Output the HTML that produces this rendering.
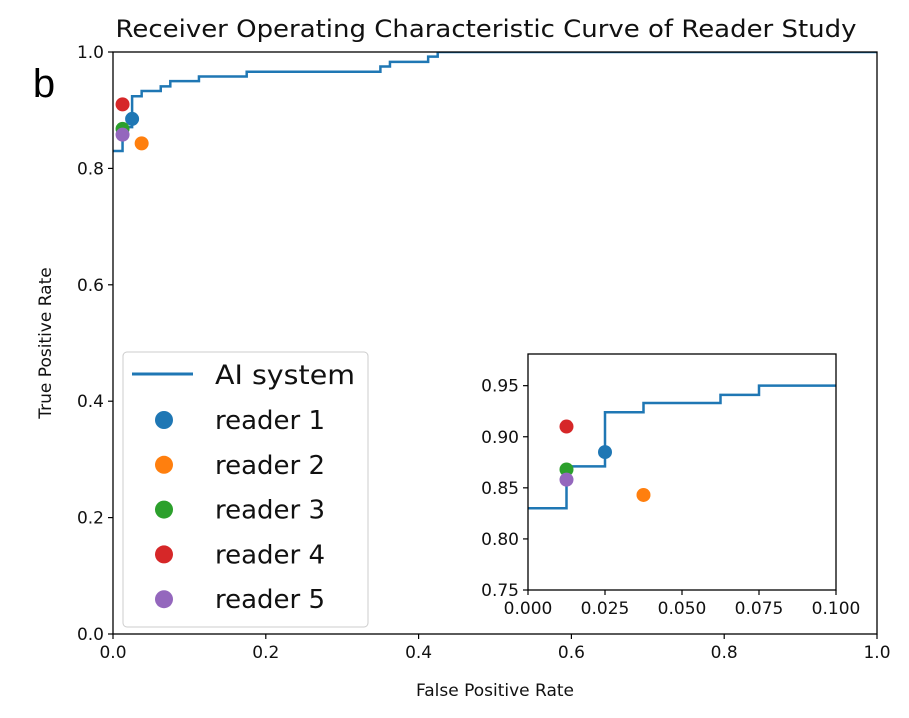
<!DOCTYPE html>
<html><head><meta charset="utf-8"><style>
html,body{margin:0;background:#fff;overflow:hidden;width:909px;height:718px}
svg{display:block;font-family:"DejaVu Sans","Liberation Sans",sans-serif}
</style></head><body>
<svg id="chart" width="909" height="718" viewBox="0 0 909 718">
<text x="486" y="37" font-size="24" text-anchor="middle" fill="#111" textLength="741" lengthAdjust="spacingAndGlyphs">Receiver Operating Characteristic Curve of Reader Study</text>
<text x="44" y="97" font-size="40" text-anchor="middle" fill="#000" font-family="Liberation Sans, sans-serif">b</text>
<g id="main"></g>
<g id="inset"></g>
<text x="495" y="696" font-size="17" text-anchor="middle" fill="#111">False Positive Rate</text>
<text transform="translate(51,343) rotate(-90)" font-size="17" text-anchor="middle" fill="#111">True Positive Rate</text>
<g>
<rect x="123" y="352" width="245" height="275" rx="4" fill="#fff" stroke="#ccc" stroke-width="1"/>
<line x1="132" y1="374" x2="193" y2="374" stroke="#1f77b4" stroke-width="3"/>
<text x="215" y="384" font-size="27" fill="#111" textLength="140" lengthAdjust="spacingAndGlyphs">AI system</text>
<g id="legendReaders"></g>
</g>
</svg>
<script>
const fpr = [0, 0.0125, 0.025, 0.0375, 0.0625, 0.075, 0.1125, 0.175, 0.35, 0.3625, 0.4125, 0.425, 1];
const tpr = [0.83, 0.871, 0.924, 0.933, 0.941, 0.95, 0.958, 0.966, 0.975, 0.983, 0.992, 1.0, 1.0];
const readerNames = ["reader 1","reader 2","reader 3","reader 4","reader 5"];
const readerFpr = [0.025, 0.0375, 0.0125, 0.0125, 0.0125];
const readerTpr = [0.885, 0.843, 0.868, 0.91, 0.858];
const readerColors = ["#1f77b4","#ff7f0e","#2ca02c","#d62728","#9467bd"];
const mainXTicks = [0, 0.2, 0.4, 0.6, 0.8, 1.0];
const mainYTicks = [0, 0.2, 0.4, 0.6, 0.8, 1.0];
const insetXTicks = [0, 0.025, 0.05, 0.075, 0.1];
const insetYTicks = [0.75, 0.8, 0.85, 0.9, 0.95];

const NS="http://www.w3.org/2000/svg";
function mk(tag, attrs, parent){const e=document.createElementNS(NS,tag);for(const k in attrs)e.setAttribute(k,attrs[k]);parent.appendChild(e);return e;}

function drawAxes(g, box, xd, yd, xt, yt, fmtX, fmtY, clipId, r, order){
  const sx=v=>box.l+(v-xd[0])/(xd[1]-xd[0])*(box.r-box.l);
  const sy=v=>box.b-(v-yd[0])/(yd[1]-yd[0])*(box.b-box.t);
  const defs=mk('defs',{},g);
  const cp=mk('clipPath',{id:clipId},defs);
  mk('rect',{x:box.l,y:box.t,width:box.r-box.l,height:box.b-box.t},cp);
  mk('rect',{x:box.l,y:box.t,width:box.r-box.l,height:box.b-box.t,fill:'#fff'},g);
  let d='M'+sx(fpr[0])+','+sy(tpr[0]);
  for(let i=1;i<fpr.length;i++){d+=' L'+sx(fpr[i])+','+sy(tpr[i-1])+' L'+sx(fpr[i])+','+sy(tpr[i]);}
  const p=mk('path',{d:d,fill:'none',stroke:'#1f77b4','stroke-width':2.5,'clip-path':'url(#'+clipId+')'},g);
  
  
  order.forEach(i=>{
    const c=mk('circle',{cx:sx(readerFpr[i]),cy:sy(readerTpr[i]),r:r,fill:readerColors[i],'clip-path':'url(#'+clipId+')'},g);
    
    
  });
  mk('rect',{x:box.l,y:box.t,width:box.r-box.l,height:box.b-box.t,fill:'none',stroke:'#000','stroke-width':1.3},g);
  xt.forEach(v=>{
    mk('line',{x1:sx(v),x2:sx(v),y1:box.b,y2:box.b+5,stroke:'#000','stroke-width':1.2},g);
    const t=mk('text',{x:sx(v),y:box.b+24,'font-size':17,'text-anchor':'middle',fill:'#111'},g);
    t.textContent=fmtX(v);
    
    
  });
  yt.forEach(v=>{
    mk('line',{x1:box.l-5,x2:box.l,y1:sy(v),y2:sy(v),stroke:'#000','stroke-width':1.2},g);
    const t=mk('text',{x:box.l-9,y:sy(v)+6,'font-size':17,'text-anchor':'end',fill:'#111'},g);
    t.textContent=fmtY(v);
    
    
  });
}
const mainG=document.getElementById('main');


drawAxes(mainG,{l:113,r:877,t:52,b:634},[0,1],[0,1],mainXTicks,mainYTicks,v=>v.toFixed(1),v=>v.toFixed(1),'cm',7,[0,1,2,3,4]);
const insG=document.getElementById('inset');


drawAxes(insG,{l:528,r:836,t:354,b:590},[0,0.1],[0.75,0.981],insetXTicks,insetYTicks,v=>v.toFixed(3),v=>v.toFixed(2),'ci',7,[0,1,2,3,4]);

const lg=document.getElementById('legendReaders');
readerNames.forEach((n,i)=>{
  const y=420+i*44.8;
  const c=mk('circle',{cx:164,cy:y,r:9,fill:readerColors[i]},lg);
  
  
  const t=mk('text',{x:215,y:y+9,'font-size':26,fill:'#111'},lg);
  t.textContent=n;
  
  
});
</script>
</body></html>
